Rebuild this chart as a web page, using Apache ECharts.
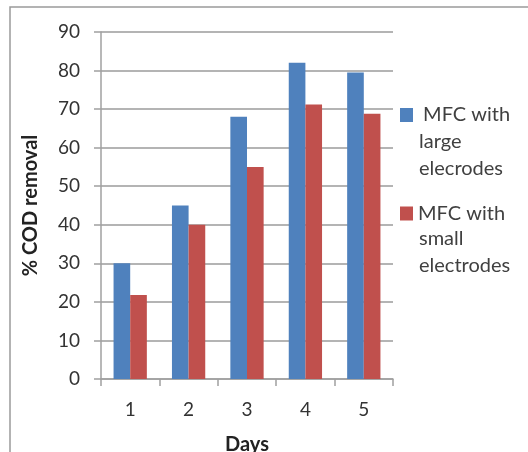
<!DOCTYPE html>
<html>
<head>
<meta charset="utf-8">
<script src="https://cdn.jsdelivr.net/npm/echarts@6/dist/echarts.min.js"></script>
<style>html,body{margin:0;padding:0;background:#fff}#c{width:528px;height:452px}</style>
</head>
<body>
<div id="c"></div>
<script>
const days = ['1', '2', '3', '4', '5'];
const largeElectrodes = [30, 45, 68, 82, 79.5];
const smallElectrodes = [21.8, 40, 55, 71.2, 68.8];
const seriesNames = ['MFC with large elecrodes', 'MFC with small electrodes'];
const legendFirstLines = [' MFC with', 'MFC with'];
const legendRestLines = ['large\nelecrodes', 'small\nelectrodes'];
const yTicks = { min: 0, max: 90, interval: 10 };

const font = 'Lato';
const chart = echarts.init(document.getElementById('c'));
const legendBase = (i, top) => ({
  data: [seriesNames[i]],
  left: 400,
  top: top,
  padding: 0,
  itemWidth: 13,
  itemHeight: 14,
  icon: 'rect',
  formatter: () => legendFirstLines[i],
  textStyle: { fontFamily: font, fontSize: 20, color: '#404040', lineHeight: 27 }
});
const restText = (i, top) => ({
  type: 'text', x: 419, y: top,
  style: { text: legendRestLines[i], fontFamily: font, fontSize: 20, fill: '#404040', lineHeight: 27, verticalAlign: 'top' }
});
chart.setOption({
  animation: false,
  graphic: [{
    type: 'rect', shape: { x: 10, y: 7, width: 700, height: 700 },
    style: { fill: 'none', stroke: '#9a9a9a', lineWidth: 1.5 }, z: -1
  }, restText(0, 128.5), restText(1, 225.5)],
  legend: [legendBase(0, 101.5), legendBase(1, 200)],
  grid: { left: 101, right: 135, top: 32, bottom: 73, containLabel: false, outerBoundsMode: 'none' },
  xAxis: {
    type: 'category', data: days,
    name: 'Days', nameLocation: 'middle', nameGap: 56,
    nameTextStyle: { fontFamily: font, fontSize: 20, fontWeight: 'bold', color: '#222' },
    axisLine: { lineStyle: { color: '#a0a0a0', width: 1.5 } },
    axisTick: { show: true, length: 7, lineStyle: { color: '#a0a0a0', width: 1.5 } },
    axisLabel: { fontFamily: font, fontSize: 19, color: '#333', margin: 21 }
  },
  yAxis: {
    type: 'value', min: yTicks.min, max: yTicks.max, interval: yTicks.interval,
    name: '% COD removal', nameLocation: 'middle', nameGap: 60,
    nameTextStyle: { fontFamily: font, fontSize: 20, fontWeight: 'bold', color: '#222' },
    axisLine: { show: true, lineStyle: { color: '#a0a0a0', width: 1.5 } },
    axisTick: { show: true, length: 7, lineStyle: { color: '#a0a0a0', width: 1.5 } },
    axisLabel: { fontFamily: font, fontSize: 19, color: '#333', margin: 21 },
    splitLine: { lineStyle: { color: '#b4b4b4', width: 2 } }
  },
  series: [
    { name: seriesNames[0], type: 'bar', data: largeElectrodes, barGap: '0%', barCategoryGap: '43%', itemStyle: { color: '#4F81BD' } },
    { name: seriesNames[1], type: 'bar', data: smallElectrodes, itemStyle: { color: '#C0504D' } }
  ]
});
</script>
</body>
</html>
